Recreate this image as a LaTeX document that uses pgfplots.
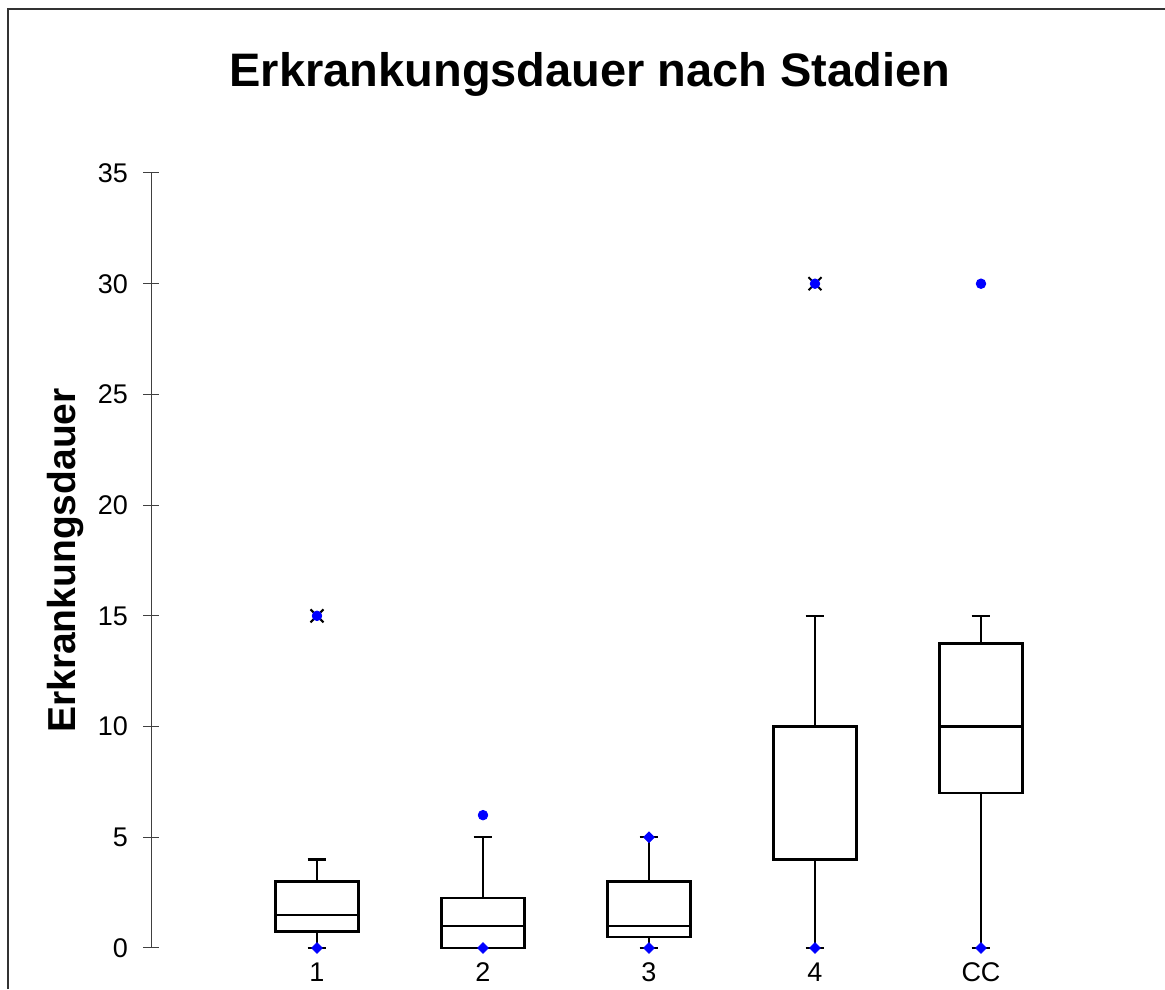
\documentclass[border=0pt]{standalone}
\usepackage{fontspec}
\setmainfont{Liberation Sans}
\usepackage{pgfplots}
\pgfplotsset{compat=1.18}
\usepgfplotslibrary{statistics}
\definecolor{mkblue}{RGB}{0,0,255}
\begin{document}
\begin{tikzpicture}
\useasboundingbox (0,0) rectangle (582.5pt,494.5pt);
\draw[black!80, line width=1pt] (4pt,0) -- (4pt,489.75pt) -- (583pt,489.75pt);
\node[anchor=base, font=\fontsize{23.5}{27}\selectfont\bfseries] at (295pt,451pt) {Erkrankungsdauer nach Stadien};
\begin{axis}[
  at={(75.5pt,20.5pt)}, anchor=south west,
  scale only axis, width=498pt, height=387.5pt,
  xmin=0, xmax=6, ymin=0, ymax=35,
  axis lines=left,
  x axis line style={draw=none},
  y axis line style={-, draw=black!75, line width=0.5pt},
  xtick={1,2,3,4,5}, xticklabels={1,2,3,4,CC},
  xtick style={draw=none},
  ytick={0,5,...,35},
  tick align=center, major tick length=8pt,
  ytick style={draw=black!75, line width=0.5pt},
  /pgf/number format/assume math mode=true,
  ticklabel style={font=\fontsize{13.5}{15}\selectfont},
  yticklabel style={xshift=-4pt},
  ylabel={Erkrankungsdauer},
  ylabel style={at={(axis description cs:-0.0763,0.5)}, anchor=base, font=\fontsize{19.5}{22}\selectfont\bfseries},
  clip=false,
  boxplot/draw direction=y,
]
\addplot[black, line width=1.2pt, boxplot prepared={lower whisker=0, lower quartile=0.75, median=1.5, upper quartile=3, upper whisker=4, draw position=1, box extend=0.5, whisker extend=0.114}] coordinates {};
\addplot[black, line width=1.2pt, boxplot prepared={lower whisker=0, lower quartile=0, median=1, upper quartile=2.25, upper whisker=5, draw position=2, box extend=0.5, whisker extend=0.114}] coordinates {};
\addplot[black, line width=1.2pt, boxplot prepared={lower whisker=0, lower quartile=0.5, median=1, upper quartile=3, upper whisker=5, draw position=3, box extend=0.5, whisker extend=0.114}] coordinates {};
\addplot[black, line width=1.2pt, boxplot prepared={lower whisker=0, lower quartile=4, median=10, upper quartile=10, upper whisker=15, draw position=4, box extend=0.5, whisker extend=0.114}] coordinates {};
\addplot[black, line width=1.2pt, boxplot prepared={lower whisker=0, lower quartile=7, median=10, upper quartile=13.75, upper whisker=15, draw position=5, box extend=0.5, whisker extend=0.114}] coordinates {};
% extreme stars
\addplot[only marks, mark=x, mark size=4.6pt, mark options={black, line width=1pt}] coordinates {(1,15) (4,30)};
% blue circles
\addplot[only marks, mark=*, mark size=2.4pt, mark options={fill=mkblue, draw=mkblue}] coordinates {(1,15) (4,30) (2,6) (5,30)};
% blue diamonds (min / max)
\addplot[only marks, mark=square*, mark size=1.85pt, mark options={rotate=45, fill=mkblue, draw=mkblue}] coordinates {(1,0) (2,0) (3,0) (3,5) (4,0) (5,0)};
\end{axis}
\end{tikzpicture}
\end{document}
